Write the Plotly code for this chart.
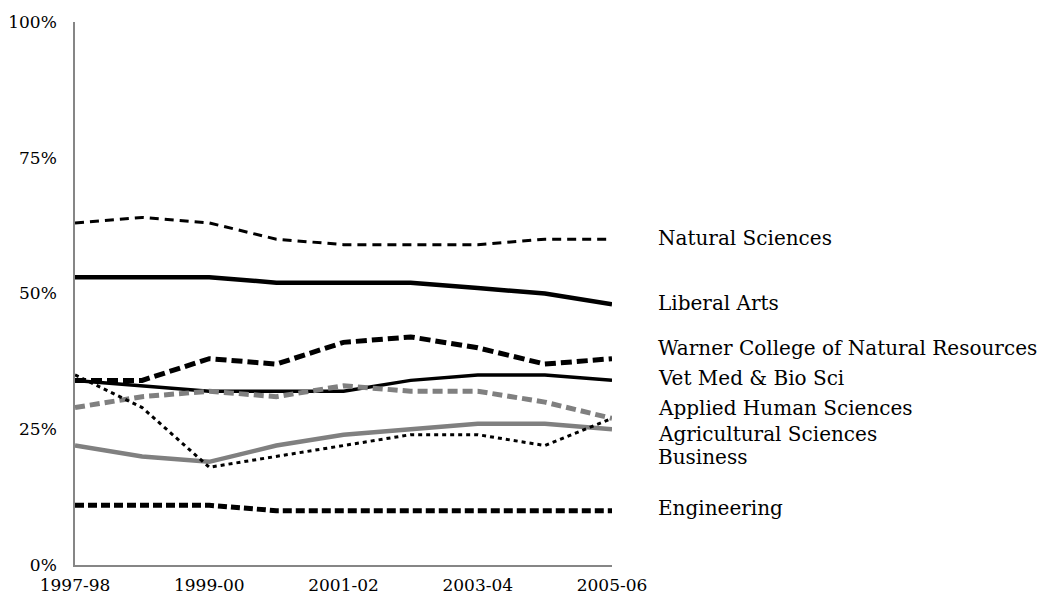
import plotly.graph_objects as go

years = ["1997-98", "1998-99", "1999-00", "2000-01", "2001-02",
         "2002-03", "2003-04", "2004-05", "2005-06"]
tick_years = ["1997-98", "1999-00", "2001-02", "2003-04", "2005-06"]

natural_sciences = [63, 64, 63, 60, 59, 59, 59, 60, 60]
liberal_arts = [53, 53, 53, 52, 52, 52, 51, 50, 48]
warner = [34, 34, 38, 37, 41, 42, 40, 37, 38]
vet_med = [34, 33, 32, 32, 32, 34, 35, 35, 34]
applied_human = [29, 31, 32, 31, 33, 32, 32, 30, 27]
agricultural = [22, 20, 19, 22, 24, 25, 26, 26, 25]
business = [35, 29, 18, 20, 22, 24, 24, 22, 27]
engineering = [11, 11, 11, 10, 10, 10, 10, 10, 10]

names = ["Natural Sciences", "Liberal Arts", "Warner College of Natural Resources",
         "Vet Med & Bio Sci", "Applied Human Sciences", "Agricultural Sciences",
         "Business", "Engineering"]
series = [natural_sciences, liberal_arts, warner, vet_med, applied_human,
          agricultural, business, engineering]
label_y = [60.2, 48.3, 40.0, 34.4, 28.9, 24.1, 19.9, 10.5]

styles = [
    dict(color="black", width=3, dash="9px,6px"),
    dict(color="black", width=4.5, dash="solid"),
    dict(color="black", width=5, dash="11px,5px"),
    dict(color="black", width=3.5, dash="solid"),
    dict(color="#808080", width=5, dash="10px,5px"),
    dict(color="#808080", width=4.5, dash="solid"),
    dict(color="black", width=3, dash="4px,4px"),
    dict(color="black", width=5, dash="9px,4px"),
]

FONT = "Palatino Linotype, Book Antiqua, Palatino, DejaVu Serif, serif"

fig = go.Figure()
for name, vals, st in zip(names, series, styles):
    fig.add_trace(go.Scatter(x=years, y=vals, mode="lines", name=name,
                             line=st, showlegend=False))

for name, ly in zip(names, label_y):
    fig.add_annotation(x=1.0, xref="paper", xshift=44, y=ly, yref="y",
                       text=name, showarrow=False, xanchor="left",
                       yanchor="middle",
                       font=dict(family=FONT, size=20, color="black"))

fig.update_layout(
    width=1056, height=597,
    margin=dict(l=67, r=452, t=14, b=40, autoexpand=False),
    plot_bgcolor="white", paper_bgcolor="white",
    font=dict(family=FONT, size=17, color="black"),
    xaxis=dict(type="category", categoryarray=years, tickvals=tick_years,
               ticktext=tick_years, range=[0, 8], showgrid=False,
               zeroline=False, showline=True, linecolor="#868686",
               linewidth=1.5, ticks="", ticklabelstandoff=4,
               automargin=False, tickfont=dict(size=17)),
    yaxis=dict(range=[0, 100], tickvals=[0, 25, 50, 75, 100],
               ticktext=["0%", "25%", "50%", "75%", "100%"],
               showgrid=False, zeroline=False, showline=True,
               linecolor="#868686", linewidth=1.5, ticks="",
               ticklabelstandoff=13, automargin=False,
               tickfont=dict(size=17)),
)

fig.write_html("out.html")
